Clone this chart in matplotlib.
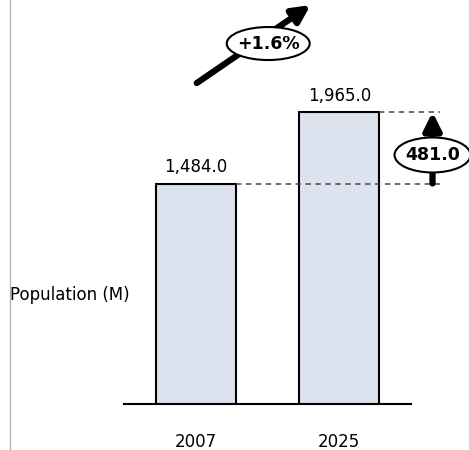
import matplotlib
matplotlib.use("Agg")
import matplotlib.pyplot as plt
from matplotlib.patches import Ellipse
from matplotlib import transforms

# data
years = ["2007", "2025"]
population = [1484.0, 1965.0]
growth_label = "+1.6%"
diff_label = "481.0"
ylabel = "Population (M)"

plt.rcParams['font.family'] = ['DejaVu Sans']

W, H = 469, 450
fig = plt.figure(figsize=(W / 100, H / 100), dpi=100)

# axes placed so baseline sits at y=404px, spanning x 124..411px
ax = fig.add_axes([124 / W, 46 / H, 287 / W, 404 / H])
ax.set_xlim(-0.5, 1.5)
ax.set_ylim(0, 2719)

x = range(len(years))
bars = ax.bar(x, population, width=0.557, color="#dde3ee",
              edgecolor="black", linewidth=1.5, zorder=2)

for xi, v in zip(x, population):
    ax.text(xi, v + 50, f"{v:,.1f}", ha="center", va="bottom", fontsize=12)

for s in ["top", "right", "left"]:
    ax.spines[s].set_visible(False)
ax.spines["bottom"].set_linewidth(1.5)
ax.set_yticks([])
ax.set_xticks(list(x))
ax.set_xticklabels(years, fontsize=12)
ax.tick_params(axis="x", length=0, pad=21)

# dashed guides from bar tops
for xi, v in zip(x, population):
    ax.plot([xi + 0.278, 1.70], [v, v], ls=(0, (3.5, 3)), color="#444444",
            lw=1.1, clip_on=False)


def oval_label(xc, yc, text, w_in, h_in):
    # ellipse sized in inches, centred on a data point
    tr = fig.dpi_scale_trans + transforms.ScaledTranslation(xc, yc, ax.transData)
    e = Ellipse((0, 0), w_in, h_in, transform=tr, fc="white", ec="black",
                lw=1.5, clip_on=False, zorder=5)
    ax.add_artist(e)
    ax.text(xc, yc, text, ha="center", va="center", fontsize=12.5,
            fontweight="bold", zorder=6, clip_on=False)


# difference arrow
ax.annotate("", xy=(1.65, population[1]), xytext=(1.65, population[0]),
            arrowprops=dict(arrowstyle="-|>", lw=4.5, color="black",
                            mutation_scale=26, shrinkA=0, shrinkB=0),
            annotation_clip=False)
oval_label(1.65, 1676, diff_label, 0.76, 0.35)

# growth arrow
ax.annotate("", xy=(0.80, 2685), xytext=(0.007, 2160),
            arrowprops=dict(arrowstyle="-|>", lw=4.5, color="black",
                            mutation_scale=26, shrinkA=0, shrinkB=0),
            annotation_clip=False)
oval_label(0.505, 2426, growth_label, 0.83, 0.33)

# y label and the cut-off pieces on the left
fig.text(10 / W, 1 - 295 / H, ylabel, ha="left", va="center", fontsize=12)
fig.text(-5 / W, 1 - 200 / H, ")", ha="left", va="center", fontsize=12)
fig.add_artist(plt.Line2D([9.5 / W, 9.5 / W], [0, 1], color="#b0b0b0",
                          lw=0.9, transform=fig.transFigure))

fig.savefig("out.png", dpi=100)
